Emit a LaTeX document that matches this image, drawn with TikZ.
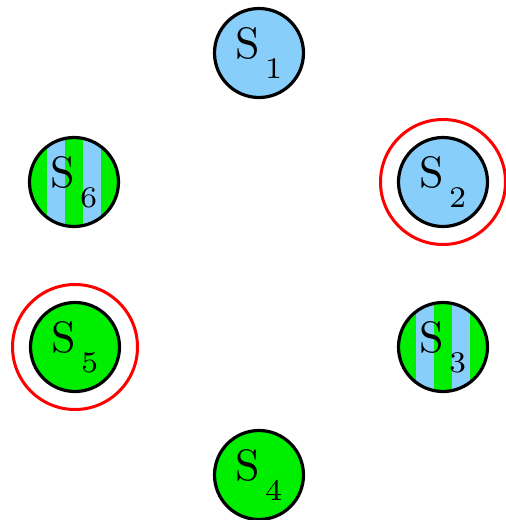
\documentclass[tikz,border=0pt]{standalone}
\usepackage{fontspec}
\setmainfont{lmroman10-regular}[Extension=.otf]
\newfontfamily\subfont{lmroman7-regular}[Extension=.otf]
\definecolor{sky}{RGB}{135,206,250}
\definecolor{grn}{RGB}{0,238,0}
\newcommand{\stlabel}[1]{S\hspace{5pt}\raisebox{-20pt}{\subfont\fontsize{30}{32}\selectfont #1}}
\begin{document}
\begin{tikzpicture}[x=1pt,y=-1pt,
  state/.style={circle, draw=black, line width=3.2pt, minimum size=89pt, inner sep=0pt, font=\fontsize{44}{48}\selectfont},
  blue state/.style={state, fill=sky},
  green state/.style={state, fill=grn},
  striped state/.style={state, fill=grn, path picture={
    \fill[sky] ([shift={(-27,-50)}]path picture bounding box.center) rectangle +(18,100);
    \fill[sky] ([shift={(9,-50)}]path picture bounding box.center) rectangle +(18,100);
  }},
  ring/.style={circle, draw=red, line width=3pt, minimum size=125pt, inner sep=0pt}
]
\useasboundingbox (0,0) rectangle (506,520);
\node[blue state] (s1) at (259,53) {\stlabel{1}};
\node[blue state] (s2) at (443,182) {\stlabel{2}};
\node[striped state] (s3) at (443,347) {\stlabel{3}};
\node[green state] (s4) at (259,475) {\stlabel{4}};
\node[green state] (s5) at (75,347) {\stlabel{5}};
\node[striped state] (s6) at (74,182) {\stlabel{6}};
\node[ring] (r2) at (s2) {};
\node[ring] (r5) at (s5) {};
\end{tikzpicture}
\end{document}
